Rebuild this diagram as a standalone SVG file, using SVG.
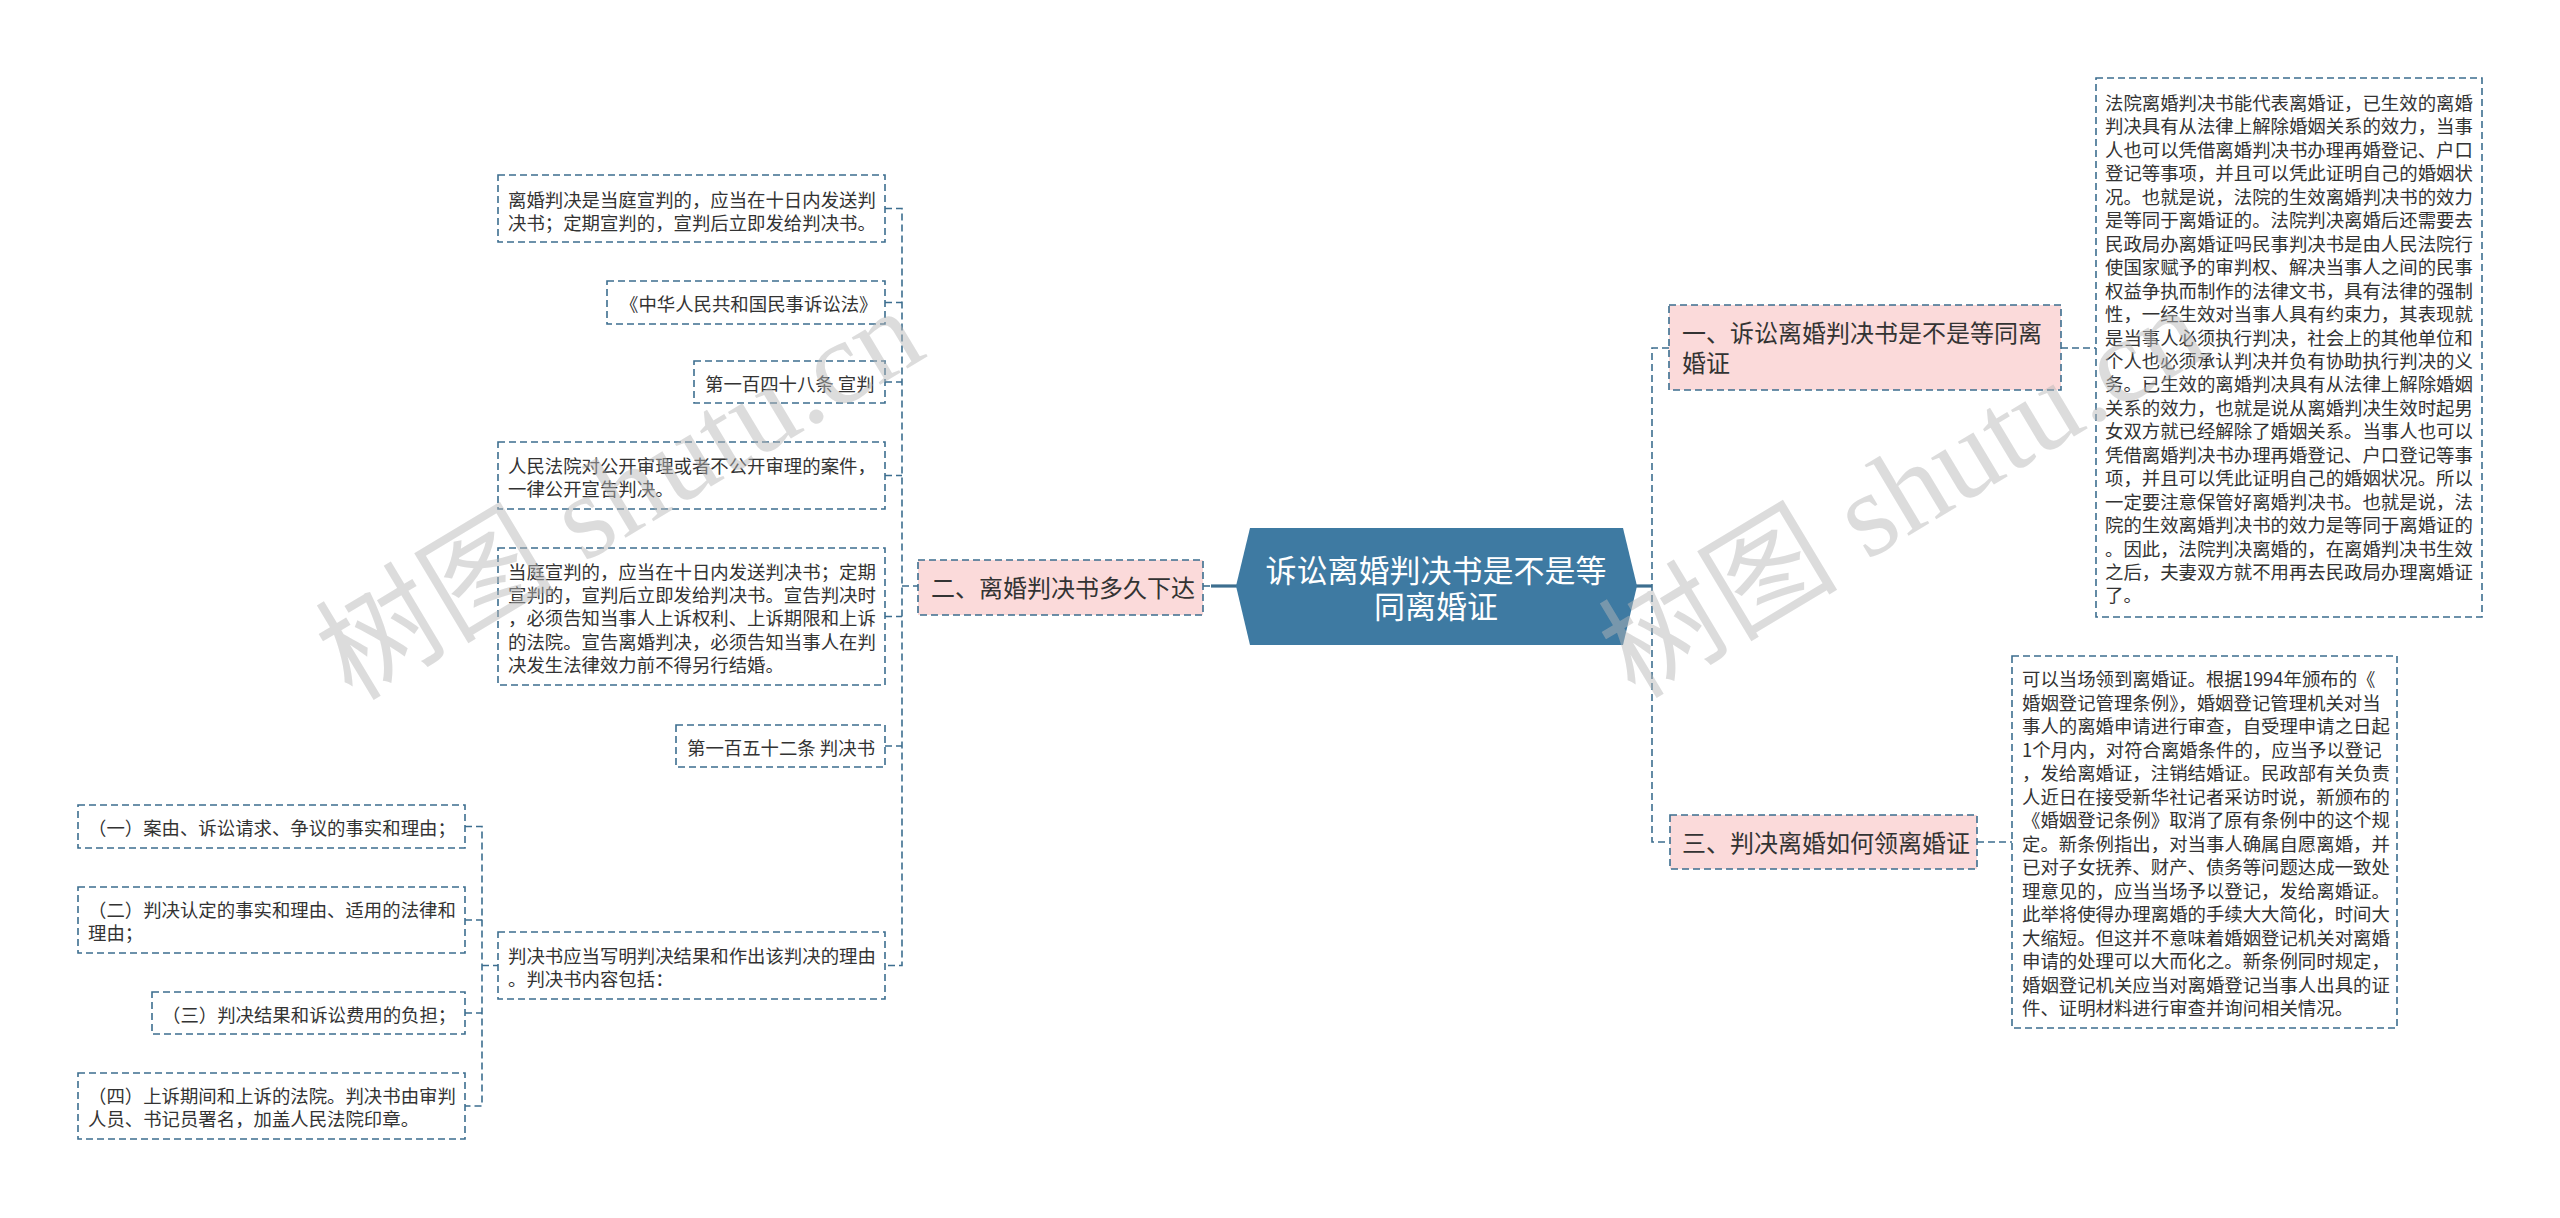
<svg xmlns="http://www.w3.org/2000/svg" width="2560" height="1218" viewBox="0 0 2560 1218">
<defs>
<style>
.bg{fill:#ffffff}
.leaf{fill:#ffffff;stroke:#3c6e8f;stroke-width:1.6;stroke-dasharray:7 4}
.sub{fill:#fbdada;stroke:#3c6e8f;stroke-width:1.6;stroke-dasharray:7 4}
.root{fill:#3e7aa2}
.t{font-family:"Noto Sans CJK SC","Noto Sans CJK TC",sans-serif;font-size:18.4px;fill:#333333}
.ts{font-family:"Noto Sans CJK SC","Noto Sans CJK TC",sans-serif;font-size:24px;fill:#333333}
.tr{font-family:"Noto Sans CJK SC","Noto Sans CJK TC",sans-serif;font-size:31px;fill:#ffffff}
.c{fill:none;stroke:#3c6e8f;stroke-width:1.6;stroke-dasharray:7 4}
.cs{fill:none;stroke:#3c6e8f;stroke-width:3.2}
.wm{font-family:"Liberation Serif","Noto Sans CJK SC",serif;font-size:120px;fill:#b8b8b8;opacity:0.48}
</style>
</defs>
<rect class="bg" x="0" y="0" width="2560" height="1218"/>

<g id="connectors">
<line class="cs" x1="1211" y1="586" x2="1237" y2="586"/>
<line class="c" x1="1203" y1="586" x2="1211" y2="586"/>
<line class="cs" x1="1636" y1="586" x2="1652" y2="586"/>
<path class="c" d="M1669 348 H1652 V842 H1669"/>
<line class="c" x1="2061" y1="348" x2="2096" y2="348"/>
<line class="c" x1="1977" y1="842" x2="2012" y2="842"/>
<line class="c" x1="902" y1="586" x2="918" y2="586"/>
<path class="c" d="M885 208.5 H902 V965.5 H885"/>
<line class="c" x1="885" y1="302.5" x2="902" y2="302.5"/>
<line class="c" x1="885" y1="382" x2="902" y2="382"/>
<line class="c" x1="885" y1="475.5" x2="902" y2="475.5"/>
<line class="c" x1="885" y1="616.5" x2="902" y2="616.5"/>
<line class="c" x1="885" y1="746" x2="902" y2="746"/>
<line class="c" x1="482" y1="965.5" x2="498" y2="965.5"/>
<path class="c" d="M465 826.5 H482 V1106 H465"/>
<line class="c" x1="465" y1="920" x2="482" y2="920"/>
<line class="c" x1="465" y1="1013" x2="482" y2="1013"/>
</g>

<g id="root">
<polygon class="root" points="1236,586 1250,528 1623,528 1637,586 1623,645 1250,645"/>
<text class="tr" x="1436" y="582" text-anchor="middle">诉讼离婚判决书是不是等</text>
<text class="tr" x="1436" y="618" text-anchor="middle">同离婚证</text>
</g>

<g id="node-er">
<rect class="sub" x="918" y="560" width="285" height="55"/>
<text class="ts" x="931" y="597">二、离婚判决书多久下达</text>
</g>

<g id="leaf-1">
<rect class="leaf" x="498" y="175" width="387" height="67"/>
<text class="t" x="508" y="207"><tspan x="508">离婚判决是当庭宣判的，应当在十日内发送判</tspan><tspan x="508" dy="23.4">决书；定期宣判的，宣判后立即发给判决书。</tspan></text>
</g>
<g id="leaf-2">
<rect class="leaf" x="607" y="281" width="278" height="43"/>
<text class="t" x="620" y="311">《中华人民共和国民事诉讼法》</text>
</g>
<g id="leaf-3">
<rect class="leaf" x="694" y="361" width="191" height="42"/>
<text class="t" x="705" y="391">第一百四十八条 宣判</text>
</g>
<g id="leaf-4">
<rect class="leaf" x="498" y="442" width="387" height="67"/>
<text class="t" x="508" y="473"><tspan x="508">人民法院对公开审理或者不公开审理的案件，</tspan><tspan x="508" dy="23.4">一律公开宣告判决。</tspan></text>
</g>
<g id="leaf-5">
<rect class="leaf" x="498" y="548" width="387" height="137"/>
<text class="t" x="508" y="578.5"><tspan x="508">当庭宣判的，应当在十日内发送判决书；定期</tspan><tspan x="508" dy="23.4">宣判的，宣判后立即发给判决书。宣告判决时</tspan><tspan x="508" dy="23.4">，必须告知当事人上诉权利、上诉期限和上诉</tspan><tspan x="508" dy="23.4">的法院。宣告离婚判决，必须告知当事人在判</tspan><tspan x="508" dy="23.4">决发生法律效力前不得另行结婚。</tspan></text>
</g>
<g id="leaf-6">
<rect class="leaf" x="676" y="725" width="209" height="42"/>
<text class="t" x="687" y="755">第一百五十二条 判决书</text>
</g>
<g id="leaf-7">
<rect class="leaf" x="498" y="932" width="387" height="67"/>
<text class="t" x="508" y="963"><tspan x="508">判决书应当写明判决结果和作出该判决的理由</tspan><tspan x="508" dy="23.4">。判决书内容包括：</tspan></text>
</g>

<g id="item-1">
<rect class="leaf" x="78" y="805" width="387" height="43"/>
<text class="t" x="88" y="835">（一）案由、诉讼请求、争议的事实和理由；</text>
</g>
<g id="item-2">
<rect class="leaf" x="78" y="887" width="387" height="66"/>
<text class="t" x="88" y="917"><tspan x="88">（二）判决认定的事实和理由、适用的法律和</tspan><tspan x="88" dy="23.4">理由；</tspan></text>
</g>
<g id="item-3">
<rect class="leaf" x="152" y="992" width="313" height="42"/>
<text class="t" x="162" y="1022">（三）判决结果和诉讼费用的负担；</text>
</g>
<g id="item-4">
<rect class="leaf" x="78" y="1073" width="387" height="66"/>
<text class="t" x="88" y="1103"><tspan x="88">（四）上诉期间和上诉的法院。判决书由审判</tspan><tspan x="88" dy="23.4">人员、书记员署名，加盖人民法院印章。</tspan></text>
</g>

<g id="node-yi">
<rect class="sub" x="1669" y="305" width="392" height="85"/>
<text class="ts" x="1682" y="342"><tspan x="1682">一、诉讼离婚判决书是不是等同离</tspan><tspan x="1682" dy="30">婚证</tspan></text>
</g>
<g id="text-yi">
<rect class="leaf" x="2096" y="78" width="386" height="539"/>
<text class="t" x="2105" y="110"><tspan x="2105">法院离婚判决书能代表离婚证，已生效的离婚</tspan><tspan x="2105" dy="23.45">判决具有从法律上解除婚姻关系的效力，当事</tspan><tspan x="2105" dy="23.45">人也可以凭借离婚判决书办理再婚登记、户口</tspan><tspan x="2105" dy="23.45">登记等事项，并且可以凭此证明自己的婚姻状</tspan><tspan x="2105" dy="23.45">况。也就是说，法院的生效离婚判决书的效力</tspan><tspan x="2105" dy="23.45">是等同于离婚证的。法院判决离婚后还需要去</tspan><tspan x="2105" dy="23.45">民政局办离婚证吗民事判决书是由人民法院行</tspan><tspan x="2105" dy="23.45">使国家赋予的审判权、解决当事人之间的民事</tspan><tspan x="2105" dy="23.45">权益争执而制作的法律文书，具有法律的强制</tspan><tspan x="2105" dy="23.45">性，一经生效对当事人具有约束力，其表现就</tspan><tspan x="2105" dy="23.45">是当事人必须执行判决，社会上的其他单位和</tspan><tspan x="2105" dy="23.45">个人也必须承认判决并负有协助执行判决的义</tspan><tspan x="2105" dy="23.45">务。已生效的离婚判决具有从法律上解除婚姻</tspan><tspan x="2105" dy="23.45">关系的效力，也就是说从离婚判决生效时起男</tspan><tspan x="2105" dy="23.45">女双方就已经解除了婚姻关系。当事人也可以</tspan><tspan x="2105" dy="23.45">凭借离婚判决书办理再婚登记、户口登记等事</tspan><tspan x="2105" dy="23.45">项，并且可以凭此证明自己的婚姻状况。所以</tspan><tspan x="2105" dy="23.45">一定要注意保管好离婚判决书。也就是说，法</tspan><tspan x="2105" dy="23.45">院的生效离婚判决书的效力是等同于离婚证的</tspan><tspan x="2105" dy="23.45">。因此，法院判决离婚的，在离婚判决书生效</tspan><tspan x="2105" dy="23.45">之后，夫妻双方就不用再去民政局办理离婚证</tspan><tspan x="2105" dy="23.45">了。</tspan></text>
</g>

<g id="node-san">
<rect class="sub" x="1670" y="815" width="307" height="54"/>
<text class="ts" x="1682" y="852">三、判决离婚如何领离婚证</text>
</g>
<g id="text-san">
<rect class="leaf" x="2012" y="656" width="385" height="372"/>
<text class="t" x="2022" y="686"><tspan x="2022">可以当场领到离婚证。根据1994年颁布的《</tspan><tspan x="2022" dy="23.5">婚姻登记管理条例》，婚姻登记管理机关对当</tspan><tspan x="2022" dy="23.5">事人的离婚申请进行审查，自受理申请之日起</tspan><tspan x="2022" dy="23.5">1个月内，对符合离婚条件的，应当予以登记</tspan><tspan x="2022" dy="23.5">，发给离婚证，注销结婚证。民政部有关负责</tspan><tspan x="2022" dy="23.5">人近日在接受新华社记者采访时说，新颁布的</tspan><tspan x="2022" dy="23.5">《婚姻登记条例》取消了原有条例中的这个规</tspan><tspan x="2022" dy="23.5">定。新条例指出，对当事人确属自愿离婚，并</tspan><tspan x="2022" dy="23.5">已对子女抚养、财产、债务等问题达成一致处</tspan><tspan x="2022" dy="23.5">理意见的，应当当场予以登记，发给离婚证。</tspan><tspan x="2022" dy="23.5">此举将使得办理离婚的手续大大简化，时间大</tspan><tspan x="2022" dy="23.5">大缩短。但这并不意味着婚姻登记机关对离婚</tspan><tspan x="2022" dy="23.5">申请的处理可以大而化之。新条例同时规定，</tspan><tspan x="2022" dy="23.5">婚姻登记机关应当对离婚登记当事人出具的证</tspan><tspan x="2022" dy="23.5">件、证明材料进行审查并询问相关情况。</tspan></text>
</g>

<g id="watermarks">
<text class="wm" transform="translate(352,702) rotate(-31)">树图 shutu.cn</text>
<text class="wm" transform="translate(1635,700) rotate(-31)">树图 shutu.cn</text>
</g>
</svg>
